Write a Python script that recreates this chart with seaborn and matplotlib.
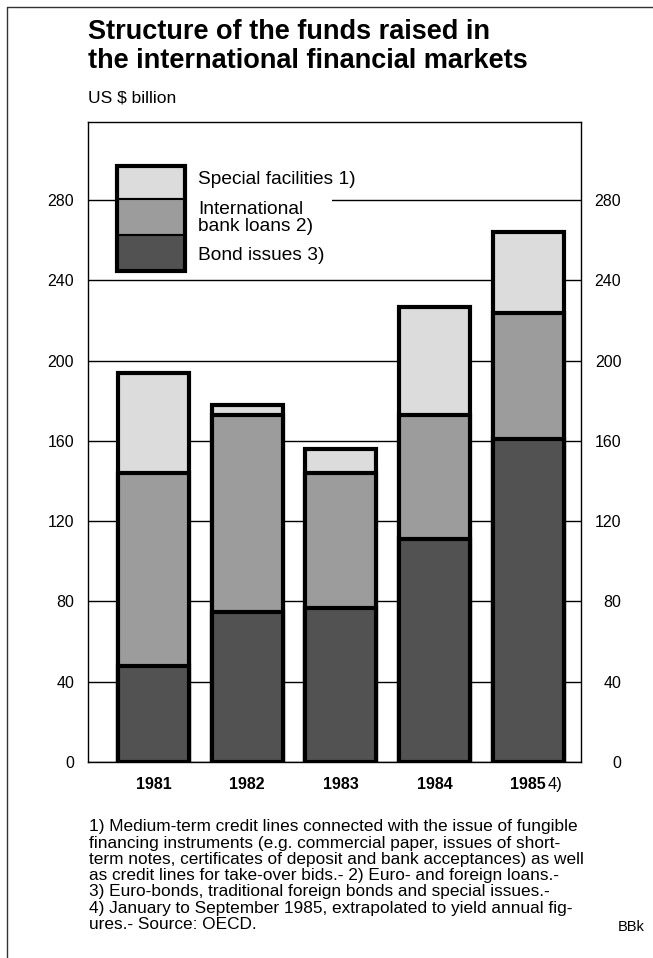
import matplotlib
matplotlib.use("Agg")
import matplotlib.pyplot as plt
import seaborn as sns
import pandas as pd
from matplotlib.patches import Rectangle
from matplotlib.lines import Line2D

# ---- data (US $ billion) ----
years = ["1981", "1982", "1983", "1984", "1985"]
bond_issues = [48, 75, 77, 111, 161]
bank_loans = [96, 98, 67, 62, 63]
special_facilities = [50, 5, 12, 54, 40]
y_ticks = [0, 40, 80, 120, 160, 200, 240, 280]

legend_labels = ["Special facilities 1)", "International\nbank loans 2)", "Bond issues 3)"]
colors = {"special": "#dcdcdc", "bank": "#9c9c9c", "bond": "#525252"}

footnote_lines = [
    "1) Medium-term credit lines connected with the issue of fungible",
    "financing instruments (e.g. commercial paper, issues of short-",
    "term notes, certificates of deposit and bank acceptances) as well",
    "as credit lines for take-over bids.- 2) Euro- and foreign loans.-",
    "3) Euro-bonds, traditional foreign bonds and special issues.-",
    "4) January to September 1985, extrapolated to yield annual fig-",
    "ures.- Source: OECD.",
]

df = pd.DataFrame({"year": years, "bond": bond_issues, "bank": bank_loans,
                   "special": special_facilities})
df["lvl_bank"] = df["bond"] + df["bank"]
df["lvl_total"] = df["lvl_bank"] + df["special"]

sns.set_style("white")
plt.rcParams["font.family"] = ["Liberation Sans", "DejaVu Sans"]
for k in ["text.color", "axes.labelcolor", "xtick.color", "ytick.color", "axes.edgecolor"]:
    plt.rcParams[k] = "black"

W, H = 653, 958
fig = plt.figure(figsize=(W / 100, H / 100), dpi=100)

def fx(px):
    return px / W

def fy(py):
    return 1 - py / H

ax_l, ax_r, ax_t, ax_b = 88, 581, 122, 762
ax = fig.add_axes([fx(ax_l), fy(ax_b), fx(ax_r - ax_l), (ax_b - ax_t) / H])

def axx(px):
    return (px - ax_l) / (ax_r - ax_l)

def axy(py):
    return (ax_b - py) / (ax_b - ax_t)

bar_kw = dict(order=years, width=0.76, edgecolor="black", linewidth=3.0,
              saturation=1, ax=ax, zorder=3)
sns.barplot(data=df, x="year", y="lvl_total", color=colors["special"], **bar_kw)
sns.barplot(data=df, x="year", y="lvl_bank", color=colors["bank"], **bar_kw)
sns.barplot(data=df, x="year", y="bond", color=colors["bond"], **bar_kw)

ax.set_xlim(-0.70, 4.565)
ax.set_ylim(0, 319)
ax.set_xlabel("")
ax.set_ylabel("")

# grid and spines
ax.set_yticks(y_ticks)
ax.set_yticklabels([str(v) for v in y_ticks], fontsize=11.5)
ax.yaxis.grid(True, color="black", linewidth=1.0)
ax.xaxis.grid(False)
ax.set_axisbelow(True)
for s in ax.spines.values():
    s.set_visible(True)
    s.set_color("black")
    s.set_linewidth(1.0)
ax.tick_params(axis="y", length=0, pad=10)

# right-hand tick labels
ax2 = ax.twinx()
ax2.set_ylim(ax.get_ylim())
ax2.set_yticks(y_ticks)
ax2.set_yticklabels([str(v) for v in y_ticks], fontsize=11.5, ha="right")
ax2.tick_params(axis="y", length=0, pad=29)
for s in ax2.spines.values():
    s.set_visible(False)

# x axis: bold year labels, separators between categories
ax.set_xticks(range(len(years)))
ax.set_xticklabels(years, fontsize=11.5, fontweight="bold")
ax.set_xticks([i + 0.5 for i in range(len(years) - 1)], minor=True)
ax.tick_params(axis="x", which="major", length=0, pad=11)
ax.tick_params(axis="x", which="minor", direction="inout", length=22, width=1.0,
               color="black")
ax.annotate("4)", xy=(len(years) - 1, 0), xycoords=("data", "axes fraction"),
            xytext=(20, -22), textcoords="offset pixels", ha="left", va="center",
            fontsize=12)

# legend (stacked swatch block with labels)
tr = ax.transAxes
ax.add_patch(Rectangle((axx(117), axy(276)), axx(332) - axx(117), axy(160) - axy(276),
                       transform=tr, facecolor="white", edgecolor="none", zorder=4))
sw_x0, sw_x1 = 117, 185
sw_edges = [166, 199, 235, 271]
sw_colors = [colors["special"], colors["bank"], colors["bond"]]
for i, c in enumerate(sw_colors):
    y_top, y_bot = sw_edges[i], sw_edges[i + 1]
    ax.add_patch(Rectangle((axx(sw_x0), axy(y_bot)), axx(sw_x1) - axx(sw_x0),
                           axy(y_top) - axy(y_bot), transform=tr, facecolor=c,
                           edgecolor="black", linewidth=1.5, zorder=5))
ax.add_patch(Rectangle((axx(sw_x0), axy(sw_edges[-1])), axx(sw_x1) - axx(sw_x0),
                       axy(sw_edges[0]) - axy(sw_edges[-1]), transform=tr,
                       facecolor="none", edgecolor="black", linewidth=3.0, zorder=6))
label_y = [180, 218, 256]
for lab, yy in zip(legend_labels, label_y):
    ax.text(axx(198), axy(yy), lab, transform=tr, fontsize=13.8, ha="left",
            va="center", linespacing=1.0, zorder=6)

# titles
fig.text(fx(88), fy(39), "Structure of the funds raised in", fontsize=19.5,
         fontweight="bold", ha="left", va="baseline")
fig.text(fx(88), fy(68), "the international financial markets", fontsize=19.5,
         fontweight="bold", ha="left", va="baseline")
fig.text(fx(88), fy(103), "US $ billion", fontsize=12.5, ha="left", va="baseline")

# footnotes
for i, line in enumerate(footnote_lines):
    fig.text(fx(89), fy(827 + i * 16.2), line, fontsize=12.4, ha="left", va="center")
fig.text(fx(618), fy(927), "BBk", fontsize=10.5, ha="left", va="center")

# page frame lines
fig.add_artist(Line2D([fx(7), 1], [fy(7), fy(7)], color="#333333", linewidth=1.0))
fig.add_artist(Line2D([fx(7), fx(7)], [fy(7), 0], color="#333333", linewidth=1.0))

fig.savefig("out.png", dpi=100)
